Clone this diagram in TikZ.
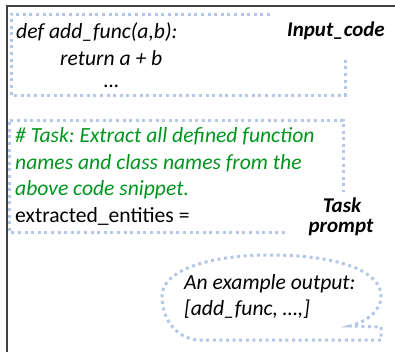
\documentclass[tikz,border=0pt]{standalone}
\usepackage{fontspec}
\setmainfont{Carlito}
\definecolor{dotcol}{RGB}{180,199,231}
\definecolor{framecol}{RGB}{64,64,64}
\definecolor{taskgreen}{RGB}{0,150,30}
\begin{document}
\frenchspacing
\begin{tikzpicture}[x=1pt,y=-1pt,
  dotline/.style={draw=dotcol,line width=3pt,dash pattern=on 3pt off 3.6pt},
  txt/.style={inner sep=0pt,anchor=west,font=\fontsize{21.6}{26}\selectfont},
  itx/.style={txt,font=\fontsize{21.6}{26}\selectfont\itshape},
  lbl/.style={inner sep=0pt,font=\fontsize{21}{25}\selectfont\bfseries\itshape}]
\useasboundingbox (0,0) rectangle (395,351);
\fill[white] (0,0) rectangle (395,351);
% outer frame
\draw[framecol,line width=1.5pt] (7,352) -- (7,6) -- (396,6);
% input code box
\draw[dotline] (270,14) -- (11,14) -- (11,95) -- (345,95) -- (345,58);
\node[itx] (c1) at (16,32) {def add\_func(a,b):};
\node[itx] (c2) at (60,58) {return a + b};
\node[itx] (c3) at (104,86) {…};
\node[lbl,anchor=west] (inlbl) at (287,31) {Input\_code};
% task prompt box
\draw[dotline] (285,232) -- (9,232) -- (9,120) -- (343,120) -- (343,192);
\node[itx,text=taskgreen] (t1) at (15,136) {\# Task: Extract all defined function};
\node[itx,text=taskgreen] (t2) at (15,163) {names and class names from the};
\node[itx,text=taskgreen] (t3) at (15,190) {above code snippet.};
\node[txt] (t4) at (15,216) {extracted\_entities =};
\node[lbl] (tlbl1) at (342,205) {Task};
\node[lbl] (tlbl2) at (341,228) {prompt};
% example output bubble
\draw[dotline] (381,327) -- (381,340) -- (198,340)
  .. controls (175,338) and (162,318) .. (162,296)
  .. controls (162,270) and (210,255) .. (270,255)
  .. controls (335,255) and (381,270) .. (381,296)
  .. controls (381,312) and (365,322) .. (350,326)
  -- (381,327);
\node[itx] (o1) at (184,284) {An example output:};
\node[itx] (o2) at (184,309) {[add\_func, …,]};
\end{tikzpicture}
\end{document}
